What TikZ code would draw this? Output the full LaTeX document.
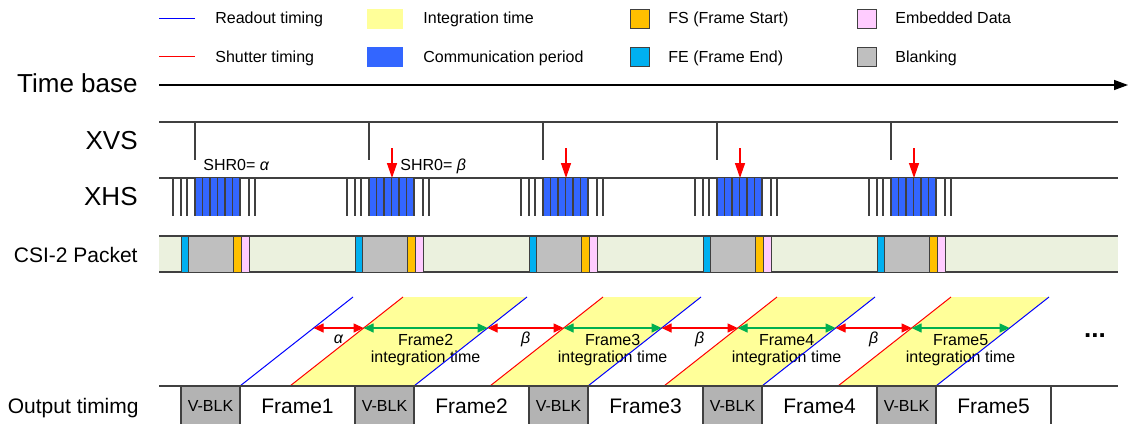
\documentclass[tikz,border=0pt]{standalone}
\usepackage{fontspec}
\setmainfont{Liberation Sans}
\usetikzlibrary{arrows.meta}
\definecolor{integ}{RGB}{255,255,153}
\definecolor{comm}{RGB}{51,102,255}
\definecolor{fscol}{RGB}{255,192,0}
\definecolor{fecol}{RGB}{0,176,240}
\definecolor{embcol}{RGB}{255,204,255}
\definecolor{blkcol}{RGB}{191,191,191}
\definecolor{vblkcol}{RGB}{179,179,179}
\definecolor{csibg}{RGB}{235,241,222}
\definecolor{sig}{RGB}{64,64,64}
\definecolor{arrgreen}{RGB}{0,176,80}

\begin{document}
\begin{tikzpicture}[
  x=0.5pt, y=-0.5pt,
  font=\fontsize{8}{9.6}\selectfont,
  leg/.style={anchor=base west, inner sep=0pt},
  rowlbl/.style={anchor=base east, inner sep=0pt, font=\fontsize{13}{15}\selectfont},
  rowlbls/.style={anchor=base east, inner sep=0pt, font=\fontsize{10.5}{12}\selectfont},
  mid/.style={anchor=base, inner sep=0pt},
  sw/.style={draw=sig, line width=0.6pt},
  seg/.style={draw=sig, line width=0.5pt},
  rdline/.style={blue, line width=0.5pt},
  shline/.style={red, line width=0.5pt},
  gap/.style={red, line width=0.6pt, {Triangle[length=5pt,width=4.5pt]}-{Triangle[length=5pt,width=4.5pt]}},
  itime/.style={arrgreen, line width=0.6pt, {Triangle[length=5pt,width=4.5pt]}-{Triangle[length=5pt,width=4.5pt]}},
  shr/.style={red, line width=0.7pt, -{Triangle[length=7.5pt,width=5pt]}},
]
\useasboundingbox (0,0) rectangle (1134,423);
\clip (0,0) rectangle (1134,423);

% legend
\draw[rdline] (159,18) -- (195,18);
\node[leg] (lRd) at (215,24) {Readout timing};
\draw[shline] (159,56) -- (195,56);
\node[leg] (lSh) at (215,62) {Shutter timing};
\fill[integ] (367,9) rectangle (403,29);
\node[leg] (lInt) at (423,24) {Integration time};
\fill[comm] (367,47) rectangle (403,67);
\node[leg] (lCom) at (423,62) {Communication period};
\draw[seg, fill=fscol] (630,9) rectangle (649,28);
\node[leg] (lFS) at (668,24) {FS (Frame Start)};
\draw[seg, fill=fecol] (630,47) rectangle (649,66);
\node[leg] (lFE) at (668,62) {FE (Frame End)};
\draw[seg, fill=embcol] (857,9) rectangle (876,28);
\node[leg] (lEmb) at (895,24) {Embedded Data};
\draw[seg, fill=blkcol] (857,47) rectangle (876,66);
\node[leg] (lBlk) at (895,62) {Blanking};

% row labels
\node[rowlbl] (nTB) at (138,92) {Time base};
\node[rowlbl] (nXVS) at (138,149) {XVS};
\node[rowlbl] (nXHS) at (138,205) {XHS};
\node[rowlbls] (nCSI) at (138,262) {CSI-2 Packet};
\node[rowlbls] (nOut) at (139,413) {Output timimg};

% time base
\coordinate (tb0) at (159,85);
\coordinate (tb1) at (1128,85);
\draw[line width=0.7pt, -{Triangle[length=7pt,width=5pt]}] (tb0) -- (tb1);

% XVS, XHS, CSI-2 rows
\draw[sw] (159,122) -- (1118,122);
\draw[sw] (159,178) -- (1118,178);
\fill[csibg] (159,236) rectangle (1118,272);
\draw[sw] (159,236) -- (1118,236) (159,272) -- (1118,272);
\foreach \p in {195,369,543,717,891}{
  \draw[sw] (\p,122) -- (\p,160);
  \foreach \t in {-22,-14,-8,54,60}
    \draw[sw] (\p+\t,178) -- (\p+\t,216);
  \fill[comm] (\p,178) rectangle (\p+45,216);
  \foreach \i in {0,...,6}
    \draw[sw] (\p+7.5*\i,178) -- (\p+7.5*\i,216);
  \draw[seg, fill=fecol] (\p-14,236) rectangle (\p-7,272);
  \draw[seg, fill=blkcol] (\p-7,236) rectangle (\p+38,272);
  \draw[seg, fill=fscol] (\p+38,236) rectangle (\p+46,272);
  \draw[seg, fill=embcol] (\p+46,236) rectangle (\p+54,272);
}
\foreach \p in {369,543,717,891}
  \draw[shr] (\p+23,148) -- (\p+23,178);
\node[leg] (shrA) at (203,170) {SHR0= \textit{α}};
\node[leg] (shrB) at (400,170) {SHR0= \textit{β}};

% integration time
\foreach \k/\rb/\bp/\g in {2/290/240/α,3/490/414/β,4/664/588/β,5/838/762/β}{
  \fill[integ] (\rb,386) -- (\bp+174,386) -- (\bp+287,297) -- (\rb+113,297) -- cycle;
  \coordinate (b\k) at (\bp+73.6,328);
  \coordinate (r\k) at (\rb+73.6,328);
  \coordinate (e\k) at (\bp+247.6,328);
  \node[mid] (gl\k) at (\bp/2+\rb/2+73.6,343) {\textit{\g}};
  \node[mid] (fl\k) at (\rb/2+\bp/2+160.6,345) {Frame\k};
  \node[mid] (il\k) at (\rb/2+\bp/2+160.6,362) {integration time};
}
\foreach \bp in {240,414,588,762,936}
  \draw[rdline] (\bp,386) -- (\bp+113,297);
\foreach \rb in {290,490,664,838}
  \draw[shline] (\rb,386) -- (\rb+113,297);
\foreach \k in {2,...,5}{
  \draw[gap] (b\k) -- (r\k);
  \draw[itime] (r\k) -- (e\k);
}
\node[inner sep=0pt, font=\fontsize{13}{15}\selectfont\bfseries] (dots) at (1095,336) {...};

% output timing
\draw[sw] (159,386) -- (1118,386);
\foreach \k in {1,...,5}{
  \draw[sw, fill=vblkcol] (181+174*\k-174,386) rectangle (240+174*\k-174,430);
  \node[mid] (vb\k) at (210.5+174*\k-174,411) {V-BLK};
  \draw[sw] (240+174*\k-174,386) rectangle (355+174*\k-174,430);
  \node[mid, font=\fontsize{10.5}{12}\selectfont] (fr\k) at (297.5+174*\k-174,413) {Frame\k};
}
\end{tikzpicture}
\end{document}
